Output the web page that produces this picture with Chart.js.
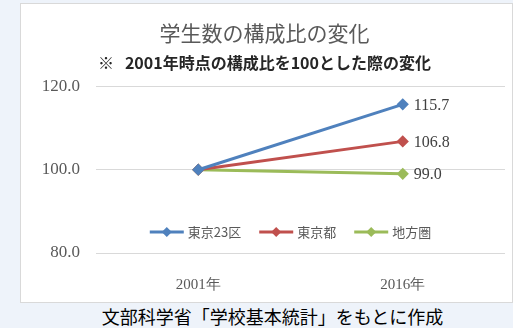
<!DOCTYPE html>
<html lang="ja">
<head>
<meta charset="utf-8">
<script src="https://cdn.jsdelivr.net/npm/chart.js@4"></script>
<style>
  html, body { margin: 0; padding: 0; }
  body { width: 513px; height: 328px; background: #eef3fa; position: relative; overflow: hidden;
         font-family: "Noto Sans CJK JP", sans-serif; }
  #panel { position: absolute; left: 20px; top: 3px; width: 491px; height: 298px;
           background: #fff; border: 1px solid #d9d9d9; }
  #panel canvas { display: block; }
  #caption { position: absolute; left: 26px; width: 493px; top: 304px; text-align: center;
             font-size: 18px; color: #000; line-height: 24px; }
</style>
</head>
<body>
<div id="panel"><canvas id="lineChart" width="491" height="298"></canvas></div>
<div id="caption">文部科学省「学校基本統計」をもとに作成</div>
<script>
const years = ['2001年', '2016年'];
const tokyo23 = [100.0, 115.7];
const tokyoto = [100.0, 106.8];
const chihou = [100.0, 99.0];
const seriesNames = ['東京23区', '東京都', '地方圏'];
const seriesColors = ['#4f81bd', '#c0504d', '#9bbb59'];

// 凡例をグラフ領域の下側に横並びで描く
const innerLegend = {
	id: 'innerLegend',
	afterDraw(chart) {
		const ctx = chart.ctx;
		const area = chart.chartArea;
		const y = area.bottom - 21;
		ctx.save();
		ctx.font = '13px "Noto Sans CJK JP"';
		const items = chart.data.datasets.map(ds => ({ ds, w: 34 + 4 + ctx.measureText(ds.label).width }));
		const gap = 18;
		const total = items.reduce((s, it) => s + it.w, 0) + gap * (items.length - 1);
		let x = (area.left + area.right) / 2 - total / 2 - 10;
		items.forEach(it => {
			ctx.strokeStyle = it.ds.borderColor;
			ctx.lineWidth = 3;
			ctx.beginPath();
			ctx.moveTo(x, y);
			ctx.lineTo(x + 34, y);
			ctx.stroke();
			ctx.fillStyle = it.ds.borderColor;
			ctx.beginPath();
			ctx.moveTo(x + 17, y - 5);
			ctx.lineTo(x + 22, y);
			ctx.lineTo(x + 17, y + 5);
			ctx.lineTo(x + 12, y);
			ctx.closePath();
			ctx.fill();
			ctx.fillStyle = '#595959';
			ctx.textBaseline = 'middle';
			ctx.fillText(it.ds.label, x + 38, y);
			x += it.w + gap;
		});
		ctx.restore();
	}
};

// 2016年の点の右側に値を表示
const endLabels = {
	id: 'endLabels',
	afterDatasetsDraw(chart) {
		const ctx = chart.ctx;
		ctx.save();
		ctx.font = '16px "Liberation Serif"';
		ctx.fillStyle = '#404040';
		ctx.textBaseline = 'middle';
		chart.data.datasets.forEach((ds, i) => {
			const pts = chart.getDatasetMeta(i).data;
			const p = pts[pts.length - 1];
			ctx.fillText(ds.data[ds.data.length - 1].toFixed(1), p.x + 11, p.y + 1);
		});
		ctx.restore();
	}
};

document.addEventListener('DOMContentLoaded', function () {
	const ctx = document.getElementById('lineChart').getContext('2d');
	const lineChart = new Chart(ctx, {
		type: 'line',
		data: {
			labels: years,
			datasets: [tokyo23, tokyoto, chihou].map((d, i) => ({
				label: seriesNames[i],
				data: d,
				borderColor: seriesColors[i],
				backgroundColor: seriesColors[i],
				borderWidth: 3,
				pointStyle: 'rectRot',
				pointRadius: 4,
				pointHoverRadius: 4,
				tension: 0
			}))
		},
		options: {
			responsive: false,
			animation: false,
			layout: { padding: { left: 0, right: 4, bottom: 0 } },
			plugins: {
				legend: { display: false },
				tooltip: { enabled: false },
				title: {
					display: true,
					text: '学生数の構成比の変化',
					color: '#595959',
					font: { family: '"Noto Sans CJK JP"', size: 21, weight: 'normal' },
					padding: { top: 16, bottom: 8 }
				},
				subtitle: {
					display: true,
					text: '※   2001年時点の構成比を100とした際の変化',
					color: '#262626',
					font: { family: '"Noto Sans CJK JP"', size: 16, weight: 'bold' },
					padding: { top: 0, bottom: 14 }
				}
			},
			scales: {
				x: {
					offset: true,
					grid: { display: false, drawTicks: false },
					border: { display: false },
					afterFit: scale => { scale.height = 49; },
					ticks: {
						color: '#595959',
						padding: 23,
						font: { family: '"Liberation Serif"', size: 15 }
					}
				},
				y: {
					min: 80,
					max: 120,
					grid: { color: '#d9d9d9', drawTicks: false },
					border: { display: false },
					afterFit: scale => { scale.width = 75; },
					ticks: {
						stepSize: 20,
						padding: 16,
						color: '#595959',
						font: { family: '"Liberation Serif"', size: 17 },
						callback: v => v.toFixed(1)
					}
				}
			}
		},
		plugins: [innerLegend, endLabels]
	});
});
</script>
</body>
</html>
